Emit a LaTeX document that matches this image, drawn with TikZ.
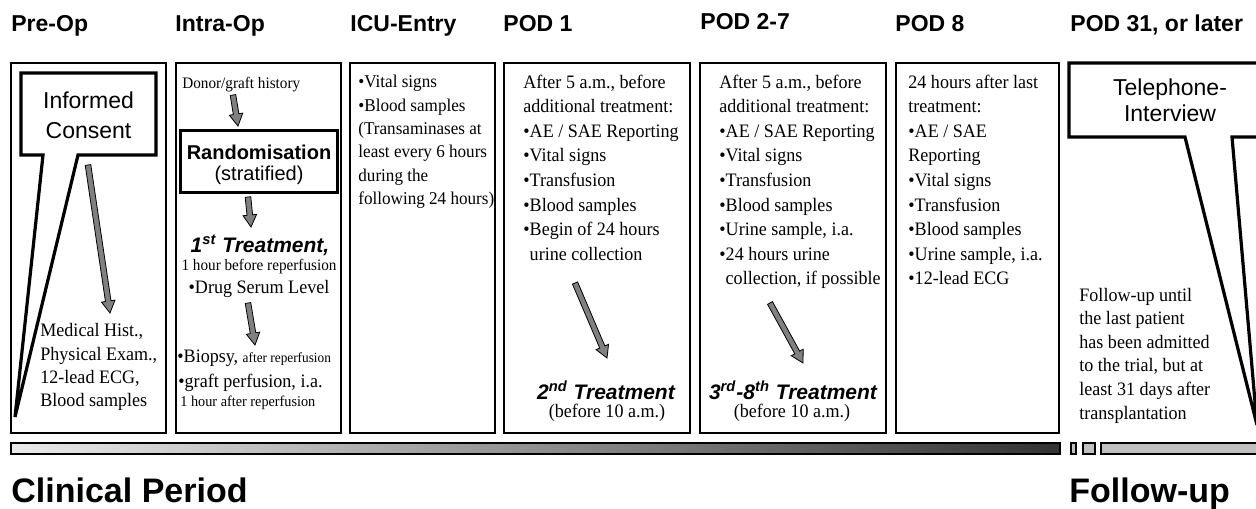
\documentclass[tikz,border=0pt]{standalone}
\usepackage{fontspec}
\setmainfont{Liberation Serif}[FakeStretch=0.95]
\setsansfont{Liberation Sans}
\usetikzlibrary{calc,fit,positioning}
\definecolor{bargray}{HTML}{C0C0C0}
\definecolor{arrowgray}{HTML}{808080}

% gray block arrow between two named points
\newcommand{\grayarrow}[2]{%
  \coordinate (ga-base) at ($(#2)!6pt!(#1)$);
  \filldraw[garrow] ($(#1)!1.4pt!90:(#2)$) -- ($(ga-base)!1.4pt!90:(#2)$) -- ($(ga-base)!3.4pt!90:(#2)$) -- (#2)
    -- ($(ga-base)!3.4pt!-90:(#2)$) -- ($(ga-base)!1.4pt!-90:(#2)$) -- ($(#1)!1.4pt!-90:(#2)$) -- cycle;}

\begin{document}
\begin{tikzpicture}[x=0.5pt, y=-0.5pt,
  daybox/.style={draw, line width=0.8pt, inner sep=0pt},
  callout/.style={draw, line width=1.6pt, fill=white},
  phase/.style={anchor=base west, inner sep=0pt, font=\sffamily\bfseries\fontsize{11.5}{13}\selectfont},
  period/.style={anchor=base west, inner sep=0pt, font=\sffamily\bfseries\fontsize{17}{20}\selectfont},
  listtxt/.style={anchor=north west, align=left, inner sep=0pt, font=\fontsize{9.5}{11.8}\selectfont},
  podtxt/.style={listtxt, font=\fontsize{9.5}{12.3}\selectfont},
  bodytxt/.style={inner sep=0pt, font=\fontsize{9.5}{11.5}\selectfont},
  smalltxt/.style={inner sep=0pt, font=\fontsize{7.5}{9}\selectfont},
  treat/.style={inner sep=0pt, font=\sffamily\bfseries\itshape\fontsize{10.5}{12}\selectfont},
  bubble/.style={align=center, inner sep=0pt, font=\sffamily\fontsize{11.5}{13}\selectfont},
  garrow/.style={fill=arrowgray, draw=black, line width=0.4pt}
]
  \useasboundingbox (0,0) rectangle (1256,508);
  \clip (0,0) rectangle (1256,508);

  % phase headings
  \node[phase] (hpre) at (11,32) {Pre-Op};
  \node[phase] (hintra) at (175,32) {Intra-Op};
  \node[phase] (hicu) at (350,32) {ICU-Entry};
  \node[phase] (hpodone) at (503,32) {POD 1};
  \node[phase] (hpodmid) at (700,30) {POD 2-7};
  \node[phase] (hpodeight) at (895,32) {POD 8};
  \node[phase] (hfollow) at (1070,32) {POD 31, or later};

  % day boxes
  \node[daybox, fit={(11,63) (166,433)}] (preop) {};
  \node[daybox, fit={(176,63) (341,433)}] (intraop) {};
  \node[daybox, fit={(350,63) (495,433)}] (icu) {};
  \node[daybox, fit={(504,63) (690,433)}] (podone) {};
  \node[daybox, fit={(700,63) (886,433)}] (podmid) {};
  \node[daybox, fit={(896,63) (1059,433)}] (podeight) {};

  % Pre-Op
  \draw[callout] (21,73) -- (156,73) -- (156,155) -- (78,155) -- (15,417) -- (43,155) -- (21,155) -- cycle;
  \node[bubble, font=\sffamily\fontsize{11.5}{15}\selectfont] (consent) at (88.5,115) {Informed\\Consent};
  \node[listtxt, font=\fontsize{9.5}{11.65}\selectfont] (history) at (40,323.3) {Medical Hist.,\\Physical Exam.,\\12-lead ECG,\\Blood samples};
  \coordinate (consent-out) at (88,165);
  \coordinate (history-in) at (110,313);
  \grayarrow{consent-out}{history-in}

  % Intra-Op
  \node[smalltxt, font=\fontsize{8}{9}\selectfont, anchor=west] (donor) at (182,85) {Donor/graft history};
  \node[draw, line width=1.5pt, inner sep=0pt, fit={(180,130) (337,192)}] (random) {};
  \node[inner sep=0pt, font=\sffamily\bfseries\fontsize{10}{11.5}\selectfont] (randtitle) at (259,152) {Randomisation};
  \node[inner sep=0pt, font=\sffamily\fontsize{10}{11.5}\selectfont] (randnote) at (259,175) {(stratified)};
  \node[treat] (firsttreat) at (260,245) {1\textsuperscript{st} Treatment,};
  \node[smalltxt, font=\fontsize{8}{9}\selectfont] (firstwhen) at (259,267) {1 hour before reperfusion};
  \node[bodytxt] (drug) at (259,289) {•Drug Serum Level};
  \node[bodytxt, anchor=west] (biopsy) at (177,358) {•Biopsy, {\fontsize{7}{8}\selectfont after reperfusion}};
  \node[bodytxt, anchor=west] (perfusion) at (178,383) {•graft perfusion, i.a.};
  \node[smalltxt, anchor=west] (perfwhen) at (180,403) {1 hour after reperfusion};
  \coordinate (donor-out) at (233,95);
  \coordinate (random-in) at (238,126);
  \coordinate (random-out) at (248,197);
  \coordinate (firsttreat-in) at (251,227);
  \coordinate (drug-out) at (248,303);
  \coordinate (biopsy-in) at (255,345);
  \grayarrow{donor-out}{random-in}
  \grayarrow{random-out}{firsttreat-in}
  \grayarrow{drug-out}{biopsy-in}

  % ICU-Entry
  \node[listtxt, font=\fontsize{9}{11.7}\selectfont] (icutxt) at (358,74.8) {•Vital signs\\•Blood samples\\(Transaminases at\\least every 6 hours\\during the\\following 24 hours)};

  % POD 1
  \node[podtxt] (podonetxt) at (523,74.3) {After 5 a.m., before\\additional treatment:\\•AE / SAE Reporting\\•Vital signs\\•Transfusion\\•Blood samples\\•Begin of 24 hours\\\phantom{•}urine collection};
  \node[treat] (secondtreat) at (606,390) {2\textsuperscript{nd} Treatment};
  \node[bodytxt] (secondwhen) at (607,413) {(before 10 a.m.)};
  \coordinate (podone-out) at (575,283);
  \coordinate (secondtreat-in) at (607,358);
  \grayarrow{podone-out}{secondtreat-in}

  % POD 2-7
  \node[podtxt] (podmidtxt) at (719,74.3) {After 5 a.m., before\\additional treatment:\\•AE / SAE Reporting\\•Vital signs\\•Transfusion\\•Blood samples\\•Urine sample, i.a.\\•24 hours urine\\\phantom{•}collection, if possible};
  \node[treat] (nexttreat) at (793,390) {3\textsuperscript{rd}-8\textsuperscript{th} Treatment};
  \node[bodytxt] (nextwhen) at (792,413) {(before 10 a.m.)};
  \coordinate (podmid-out) at (770,303);
  \coordinate (nexttreat-in) at (803,363);
  \grayarrow{podmid-out}{nexttreat-in}

  % POD 8
  \node[podtxt] (podeighttxt) at (908,74.3) {24 hours after last\\treatment:\\•AE / SAE\\Reporting\\•Vital signs\\•Transfusion\\•Blood samples\\•Urine sample, i.a.\\•12-lead ECG};

  % POD 31, or later
  \draw[callout] (1069,63) -- (1280,63) -- (1280,137) -- (1232,137) -- (1257,425) -- (1185,137) -- (1069,137) -- cycle;
  \node[bubble] (phone) at (1170,100) {Telephone-\\Interview};
  \node[listtxt] (followtxt) at (1079,287.5) {Follow-up until\\the last patient\\has been admitted\\to the trial, but at\\least 31 days after\\transplantation};

  % time bars
  \shade[left color=black!8, right color=black!80, draw=black, line width=0.6pt] (11,443) rectangle (1060,454);
  \filldraw[fill=bargray, draw=black, line width=0.6pt] (1071,443) rectangle (1076,454);
  \filldraw[fill=bargray, draw=black, line width=0.6pt] (1083,443) rectangle (1095,454);
  \filldraw[fill=bargray, draw=black, line width=0.6pt] (1101,443) rectangle (1280,454);

  \node[period] (clinical) at (11,502) {Clinical Period};
  \node[period] (followup) at (1069,502) {Follow-up};
\end{tikzpicture}
\end{document}
